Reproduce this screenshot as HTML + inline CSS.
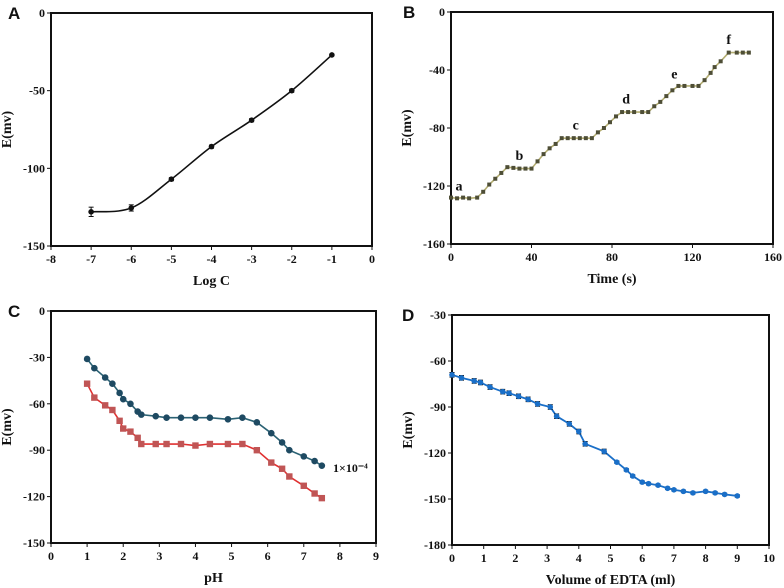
<!DOCTYPE html>
<html><head><meta charset="utf-8">
<style>
body{margin:0;background:#fff;}
svg{display:block;font-family:"Liberation Serif",serif;}
.tk{font-size:12px;font-weight:bold;fill:#111;}
.at{font-size:14px;font-weight:bold;fill:#111;}
.pl{font-family:"Liberation Sans",sans-serif;font-size:17px;font-weight:bold;fill:#111;}
</style></head>
<body>
<svg id="s" width="784" height="588" viewBox="0 0 784 588"></svg>
<script>
// Panel A data
const aX=[-7,-6,-5,-4,-3,-2,-1];
const aY=[-128,-125.5,-107,-86,-69,-50,-27];
const aErr=[3,2,1,1,1,1,0.5];
const aXTicks=[-8,-7,-6,-5,-4,-3,-2,-1,0];
const aYTicks=[0,-50,-100,-150];
// Panel B data
const bX=[0,3,6,9,13,16,19,22,25,28,31,34,37,40,43,46,49,52,55,58,61,64,67,70,73,76,79,82,85,88,91,95,98,101,104,107,110,113,116,120,123,126,129,131,134,138,142,145,148];
const bY=[-128,-128.5,-128,-128.5,-128,-124,-119,-115,-111,-107,-107.5,-108,-108,-108,-103,-98,-94,-91,-87,-87,-87,-87,-87,-87,-83,-80,-76,-72,-69,-69,-69,-69,-69,-65,-62,-58,-54,-51,-51,-51,-51,-47,-42,-38,-34,-28,-28,-28,-28];
const bXTicks=[0,40,80,120,160];
const bYTicks=[0,-40,-80,-120,-160];
const bLabels=["a","b","c","d","e","f"];
const bLabX=[4,34,62,87,111,138];
const bLabY=[-123,-102,-81,-63,-46,-22];
// Panel C data
const cX=[1,1.2,1.5,1.7,1.9,2,2.2,2.4,2.5,2.9,3.2,3.6,4,4.4,4.9,5.3,5.7,6.1,6.4,6.6,7,7.3,7.5];
const cBlue=[-31,-37,-43,-47,-53,-57,-60,-65,-67,-68,-69,-69,-69,-69,-70,-69,-72,-79,-85,-90,-94,-97,-100];
const cRed=[-47,-56,-61,-64,-71,-76,-78,-82,-86,-86,-86,-86,-87,-86,-86,-86,-90,-98,-102,-107,-113,-118,-121];
const cXTicks=[0,1,2,3,4,5,6,7,8,9];
const cYTicks=[0,-30,-60,-90,-120,-150];
// Panel D data
const dX=[0,0.3,0.7,0.9,1.2,1.6,1.8,2.1,2.4,2.7,3.1,3.3,3.7,4,4.2,4.8,5.2,5.5,5.7,6,6.2,6.5,6.8,7,7.3,7.6,8,8.3,8.6,9];
const dY=[-69,-71,-73,-74,-77,-80,-81,-83,-85,-88,-90,-96,-101,-106,-114,-119,-126,-131,-135,-139,-140,-141,-143,-144,-145,-146,-145,-146,-147,-148];
const dXTicks=[0,1,2,3,4,5,6,7,8,9,10];
const dYTicks=[-30,-60,-90,-120,-150,-180];

const NS="http://www.w3.org/2000/svg";
const svg=document.getElementById('s');
function el(tag,attrs,parent,text){const e=document.createElementNS(NS,tag);for(const k in attrs)e.setAttribute(k,attrs[k]);if(text!==undefined)e.textContent=text;(parent||svg).appendChild(e);return e;}

function panel(id,L,T,R,B,x0,x1,y0,y1,xt,yt,xtitle,letter,lx){
  const g=el('g',{});
  
  
  const sx=v=>L+(v-x0)/(x1-x0)*(R-L);
  const sy=v=>T+(y0-v)/(y0-y1)*(B-T);
  const fr=el('rect',{x:L,y:T,width:R-L,height:B-T,fill:'none',stroke:'#111','stroke-width':2},g);
  
  
  xt.forEach(v=>{el('line',{x1:sx(v),x2:sx(v),y1:B,y2:B+4,stroke:'#111','stroke-width':1},g);
    const t=el('text',{x:sx(v),y:B+17,'text-anchor':'middle',class:'tk'},g,String(v));
    
    });
  yt.forEach(v=>{el('line',{x1:L-4,x2:L,y1:sy(v),y2:sy(v),stroke:'#111','stroke-width':1},g);
    const t=el('text',{x:L-6,y:sy(v)+4,'text-anchor':'end',class:'tk'},g,String(v));
    
    });
  const xa=el('text',{x:(L+R)/2,y:B+39,'text-anchor':'middle',class:'at'},g,xtitle);
  
  
  const yx=L-40,yy=(T+B)/2;
  const ya=el('text',{x:yx,y:yy,'text-anchor':'middle',class:'at',transform:`rotate(-90 ${yx} ${yy})`},g,'E(mv)');
  
  
  const pl=el('text',{x:lx,y:T+6,class:'pl'},g,letter);
  
  
  return {g,sx,sy};
}
function polyline(p,xs,ys,color,w,name){
  const pts=xs.map((x,i)=>p.sx(x)+','+p.sy(ys[i])).join(' ');
  const l=el('polyline',{points:pts,fill:'none',stroke:color,'stroke-width':w},p.g);
  
  
}
function markers(p,xs,ys,color,shape,r,name,err){
  xs.forEach((x,i)=>{
    const cx=p.sx(x),cy=p.sy(ys[i]);
    if(err){const e=err[i];const y1=p.sy(ys[i]+e),y2=p.sy(ys[i]-e);
      el('line',{x1:cx,x2:cx,y1:y1,y2:y2,stroke:'#111','stroke-width':1},p.g);
      el('line',{x1:cx-2.5,x2:cx+2.5,y1:y1,y2:y1,stroke:'#111','stroke-width':1},p.g);
      el('line',{x1:cx-2.5,x2:cx+2.5,y1:y2,y2:y2,stroke:'#111','stroke-width':1},p.g);}
    let m;
    if(shape==='sq') m=el('rect',{x:cx-r,y:cy-r,width:2*r,height:2*r,fill:color},p.g);
    else m=el('circle',{cx:cx,cy:cy,r:r,fill:color},p.g);
    
    
  });
}

// A
const pA=panel('a',51,13,372,246,-8,0,0,-150,aXTicks,aYTicks,'Log C','A',8);
{
  const P=aX.map((x,i)=>[pA.sx(x),pA.sy(aY[i])]);
  let d=`M${P[0][0]},${P[0][1]}`;
  for(let i=0;i<P.length-1;i++){const p0=P[i-1]||P[i],p1=P[i],p2=P[i+1],p3=P[i+2]||P[i+1];
    d+=` C${p1[0]+(p2[0]-p0[0])/6},${p1[1]+(p2[1]-p0[1])/6} ${p2[0]-(p3[0]-p1[0])/6},${p2[1]-(p3[1]-p1[1])/6} ${p2[0]},${p2[1]}`;}
  const c=el('path',{d:d,fill:'none',stroke:'#111','stroke-width':1.6},pA.g);
  
  
  markers(pA,aX,aY,'#111','c',2.8,'data-point',aErr);
}
// B
const pB=panel('b',451,12,773,244,0,160,0,-160,bXTicks,bYTicks,'Time (s)','B',403);
polyline(pB,bX,bY,'#b4ae72',1.6,'response-line');
markers(pB,bX,bY,'#4e4e36','sq',2,'response-point');
bLabels.forEach((s,i)=>{const t=el('text',{x:pB.sx(bLabX[i]),y:pB.sy(bLabY[i]),'text-anchor':'middle',class:'at'},pB.g,s);
  
  });
// C
const pC=panel('c',51,311,376,543,0,9,0,-150,cXTicks,cYTicks,'pH','C',8);
polyline(pC,cX,cBlue,'#2b6274',1.6,'series-blue-line');
markers(pC,cX,cBlue,'#1e4a62','c',3.3,'series-blue-point');
polyline(pC,cX,cRed,'#e03030',1.6,'series-red-line');
markers(pC,cX,cRed,'#c05555','sq',3.2,'series-red-point');
{const t=el('text',{x:333,y:472,class:'tk','font-size':'9'},pC.g,'1×10⁻⁴');
 
 }
// D
const pD=panel('d',452,315,769,545,0,10,-30,-180,dXTicks,dYTicks,'Volume of EDTA (ml)','D',402);
polyline(pD,dX,dY,'#1a6fc8',1.8,'titration-line');
markers(pD,dX,dY,'#1a6fc8','c',2.8,'titration-point',dX.map((x,i)=>i<16?1.5:0.8));
</script>
</body></html>
